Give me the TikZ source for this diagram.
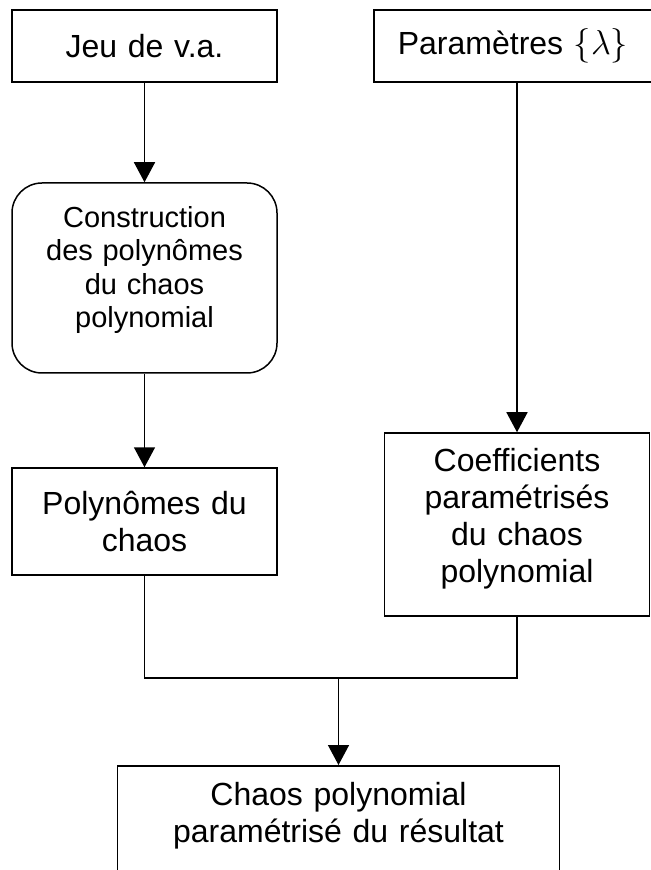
\documentclass[tikz,border=0pt]{standalone}
\usepackage{fontspec}
\setmainfont{Liberation Sans}
\usepackage{tikz}
\usetikzlibrary{arrows.meta}

\begin{document}
\begin{tikzpicture}[x=0.5pt,y=-0.5pt,
    box/.style={draw,line width=0.75pt,align=center,inner xsep=0pt,text width=132.5pt,
      font=\fontsize{16}{18.5}\selectfont},
    flow/.style={-{Triangle[width=10.5pt,length=10pt]},line width=0.75pt}]
  \useasboundingbox (0,0) rectangle (650,870);
  \node[box,minimum height=36pt] (jeu) at (144.5,46) {Jeu de v.a.};
  \node[box,text width=139pt,minimum height=36pt] (param) at (513,46) {Paramètres $\{\lambda\}$};
  \node[box,rounded corners=15pt,minimum height=95pt,text depth=61pt,font=\fontsize{14.5}{16.7}\selectfont] (constr) at (144.5,278)
    {Construction\\des polynômes\\du chaos\\polynomial};
  \node[box,minimum height=53.5pt] (poly) at (144.5,521.5) {Polynômes du\\chaos};
  \node[box,minimum height=91.5pt,text depth=65pt] (coef) at (517,524.5) {Coefficients\\paramétrisés\\du chaos\\polynomial};
  \node[box,text width=221pt,anchor=north,inner ysep=0pt,text height=20pt,text depth=60pt] (res) at (338.5,765)
    {Chaos polynomial\\paramétrisé du résultat};
  \coordinate (join) at (338.5,678);
  \draw[flow] (jeu) -- (constr);
  \draw[flow] (constr) -- (poly);
  \draw[flow] (param.south -| coef.north) -- (coef.north);
  \draw[line width=0.75pt] (poly.south) |- (join) -| (coef.south);
  \draw[flow] (join) -- (res.north);
\end{tikzpicture}
\end{document}
